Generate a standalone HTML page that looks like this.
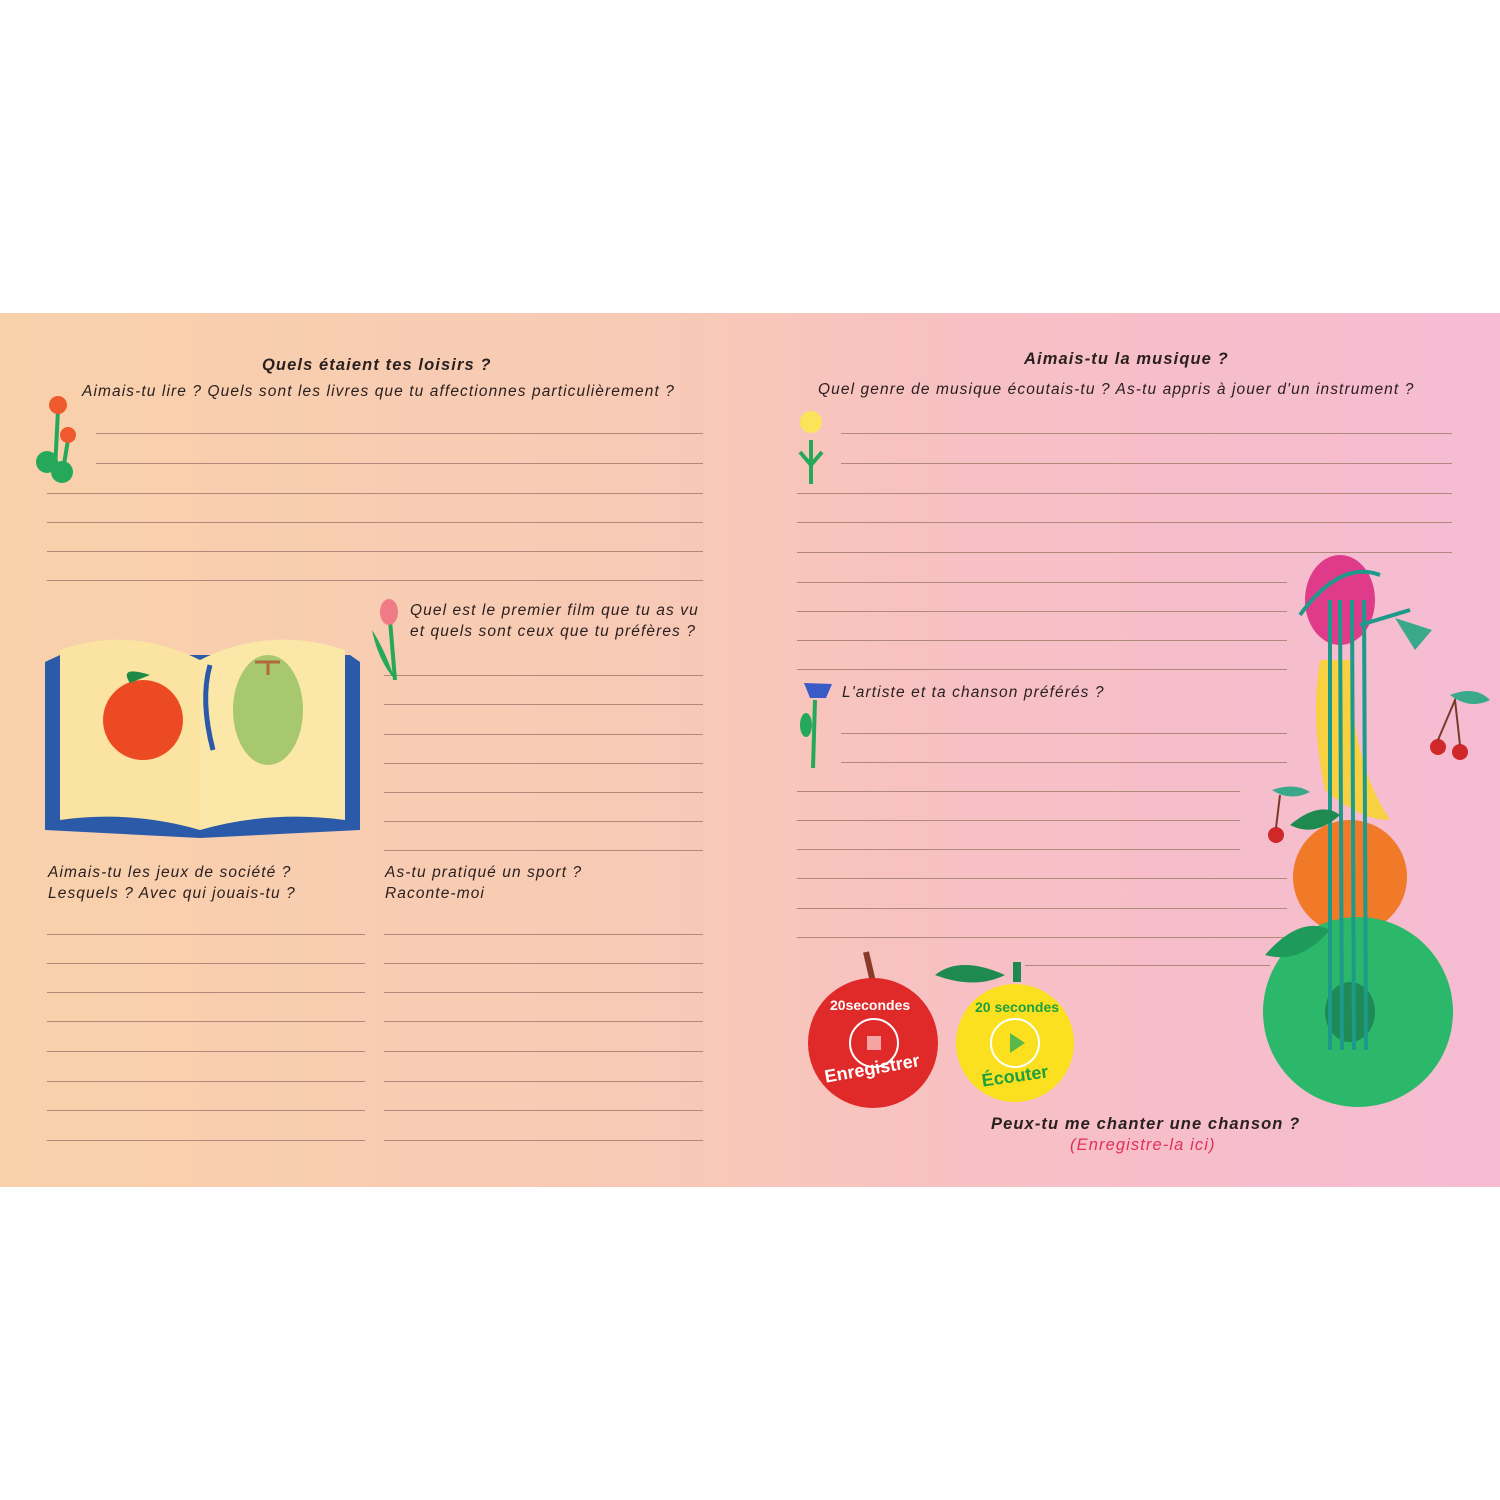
<!DOCTYPE html>
<html><head><meta charset="utf-8"><style>
html,body{margin:0;padding:0;background:#fff;width:1500px;height:1500px;overflow:hidden;position:relative;font-family:"Liberation Sans",sans-serif}
.band{position:absolute;left:0;top:313px;width:1500px;height:874px;background:linear-gradient(90deg,#f9d1ab 0%,#f8c9b6 45%,#f7c0c4 65%,#f6bbd3 100%)}
.l{position:absolute;height:1px;background:#b0897a}
.t{position:absolute;font-style:italic;font-size:15.5px;letter-spacing:1.1px;color:#2a2020;white-space:nowrap;line-height:21px}
.h{font-weight:bold;font-size:16.5px}
</style></head><body>
<div class="band"></div>
<div class="t h" style="left:262px;top:355px">Quels étaient tes loisirs ?</div>
<div class="t" style="left:82px;top:381px">Aimais-tu lire ? Quels sont les livres que tu affectionnes particulièrement ?</div>
<div class="t" style="left:410px;top:600px">Quel est le premier film que tu as vu<br>et quels sont ceux que tu préfères ?</div>
<div class="t" style="left:48px;top:862px">Aimais-tu les jeux de société ?<br>Lesquels ? Avec qui jouais-tu ?</div>
<div class="t" style="left:385px;top:862px">As-tu pratiqué un sport ?<br>Raconte-moi</div>
<div class="t h" style="left:1024px;top:349px">Aimais-tu la musique ?</div>
<div class="t" style="left:818px;top:379px">Quel genre de musique écoutais-tu ? As-tu appris à jouer d'un instrument ?</div>
<div class="t" style="left:842px;top:682px">L'artiste et ta chanson préférés ?</div>
<div class="t h" style="left:991px;top:1114px">Peux-tu me chanter une chanson ?</div>
<div class="t h" style="left:1070px;top:1135px;color:#e0305a;font-weight:normal">(Enregistre-la ici)</div>

<div class="l" style="left:96px;width:607px;top:433px"></div>
<div class="l" style="left:96px;width:607px;top:463px"></div>
<div class="l" style="left:47px;width:656px;top:493px"></div>
<div class="l" style="left:47px;width:656px;top:522px"></div>
<div class="l" style="left:47px;width:656px;top:551px"></div>
<div class="l" style="left:47px;width:656px;top:580px"></div>
<div class="l" style="left:384px;width:319px;top:675px"></div>
<div class="l" style="left:384px;width:319px;top:704px"></div>
<div class="l" style="left:384px;width:319px;top:734px"></div>
<div class="l" style="left:384px;width:319px;top:763px"></div>
<div class="l" style="left:384px;width:319px;top:792px"></div>
<div class="l" style="left:384px;width:319px;top:821px"></div>
<div class="l" style="left:384px;width:319px;top:850px"></div>
<div id="bl"></div>
<div class="l" style="left:47px;width:318px;top:934px"></div><div class="l" style="left:384px;width:319px;top:934px"></div>
<div class="l" style="left:47px;width:318px;top:963px"></div><div class="l" style="left:384px;width:319px;top:963px"></div>
<div class="l" style="left:47px;width:318px;top:992px"></div><div class="l" style="left:384px;width:319px;top:992px"></div>
<div class="l" style="left:47px;width:318px;top:1021px"></div><div class="l" style="left:384px;width:319px;top:1021px"></div>
<div class="l" style="left:47px;width:318px;top:1051px"></div><div class="l" style="left:384px;width:319px;top:1051px"></div>
<div class="l" style="left:47px;width:318px;top:1081px"></div><div class="l" style="left:384px;width:319px;top:1081px"></div>
<div class="l" style="left:47px;width:318px;top:1110px"></div><div class="l" style="left:384px;width:319px;top:1110px"></div>
<div class="l" style="left:47px;width:318px;top:1140px"></div><div class="l" style="left:384px;width:319px;top:1140px"></div>

<div class="l" style="left:841px;width:611px;top:433px"></div>
<div class="l" style="left:841px;width:611px;top:463px"></div>
<div class="l" style="left:797px;width:655px;top:493px"></div>
<div class="l" style="left:797px;width:655px;top:522px"></div>
<div class="l" style="left:797px;width:655px;top:552px"></div>
<div class="l" style="left:797px;width:490px;top:582px"></div>
<div class="l" style="left:797px;width:490px;top:611px"></div>
<div class="l" style="left:797px;width:490px;top:640px"></div>
<div class="l" style="left:797px;width:490px;top:669px"></div>
<div class="l" style="left:841px;width:446px;top:733px"></div>
<div class="l" style="left:841px;width:446px;top:762px"></div>
<div class="l" style="left:797px;width:443px;top:791px"></div>
<div class="l" style="left:797px;width:443px;top:820px"></div>
<div class="l" style="left:797px;width:443px;top:849px"></div>
<div class="l" style="left:797px;width:490px;top:878px"></div>
<div class="l" style="left:797px;width:490px;top:908px"></div>
<div class="l" style="left:797px;width:490px;top:937px"></div>
<div class="l" style="left:1025px;width:245px;top:965px"></div>

<svg style="position:absolute;left:0;top:0" width="1500" height="1500">
<!-- left flower -->
<path d="M58 410 L55 470 M68 440 L63 470" stroke="#25a85a" stroke-width="4" fill="none"/>
<circle cx="58" cy="405" r="9" fill="#ee5a2e"/><circle cx="68" cy="435" r="8" fill="#ee5a2e"/>
<circle cx="47" cy="462" r="11" fill="#25a85a"/><circle cx="62" cy="472" r="11" fill="#25a85a"/>
<!-- tulip -->
<path d="M390 620 L395 680" stroke="#25a85a" stroke-width="4"/><path d="M372 630 Q385 650 395 680 Q378 660 372 630" fill="#25a85a"/>
<ellipse cx="389" cy="612" rx="9" ry="13" fill="#ef7b86"/>
<!-- book -->
<path d="M45 662 L60 655 L350 655 L360 662 L360 830 L200 838 L45 830Z" fill="#2b5aa8"/>
<path d="M60 650 Q130 625 200 660 L200 830 Q130 810 60 820Z" fill="#fbe3a2"/>
<path d="M200 660 Q270 625 345 650 L345 820 Q270 810 200 830Z" fill="#fbe8a8"/>
<circle cx="143" cy="720" r="40" fill="#ec4a22"/><path d="M130 683 Q118 665 150 675Z" fill="#1f8a45"/>
<path d="M210 665 Q200 700 213 750" stroke="#2b5aa8" stroke-width="5" fill="none"/>
<ellipse cx="268" cy="710" rx="35" ry="55" fill="#a8c870"/><path d="M255 662 L280 662 M268 662 L268 675" stroke="#b06a3a" stroke-width="3"/>
<!-- right flowers -->
<path d="M811 440 L811 484 M811 465 L800 452 M811 465 L822 452" stroke="#25a85a" stroke-width="4" fill="none"/>
<circle cx="811" cy="422" r="11" fill="#fbe35a"/>
<path d="M815 700 L813 768" stroke="#25a85a" stroke-width="4"/><ellipse cx="806" cy="725" rx="6" ry="12" fill="#25a85a"/>
<path d="M804 683 L832 684 L826 698 L810 698Z" fill="#3a5ac8"/>
<!-- buttons -->
<path d="M866 952 L876 995" stroke="#8a3a2a" stroke-width="6"/>
<circle cx="873" cy="1043" r="65" fill="#e02a2a"/>
<circle cx="874" cy="1043" r="24" fill="none" stroke="#fff" stroke-width="2"/><rect x="867" y="1036" width="14" height="14" fill="#f5a3a3"/>
<text x="830" y="1010" fill="#fff" font-size="14" font-weight="bold" font-family="Liberation Sans">20secondes</text>
<text x="826" y="1075" fill="#fff" font-size="18" font-weight="bold" font-family="Liberation Sans" transform="rotate(-10 870 1080)">Enregistrer</text>
<path d="M935 975 Q960 955 1005 975 Q975 990 935 975Z" fill="#1e8a50"/><rect x="1013" y="962" width="8" height="20" fill="#1e8a50"/>
<circle cx="1015" cy="1043" r="59" fill="#fbe020"/>
<circle cx="1015" cy="1043" r="24" fill="none" stroke="#fff" stroke-width="2"/><path d="M1010 1033 L1025 1043 L1010 1053Z" fill="#5ab84a"/>
<text x="975" y="1012" fill="#1ea040" font-size="14" font-weight="bold" font-family="Liberation Sans">20 secondes</text>
<text x="982" y="1082" fill="#1ea040" font-size="18" font-weight="bold" font-family="Liberation Sans" transform="rotate(-8 1015 1080)">Écouter</text>
<!-- guitar/fruits -->
<ellipse cx="1340" cy="600" rx="35" ry="45" fill="#e03a8a"/>
<path d="M1320 660 Q1310 720 1325 790 Q1360 820 1390 820 Q1350 760 1350 660Z" fill="#f8d040"/>
<circle cx="1350" cy="877" r="57" fill="#f07a28"/>
<circle cx="1358" cy="1012" r="95" fill="#2cb86a"/>
<ellipse cx="1350" cy="1012" rx="25" ry="30" fill="#1e8a55"/>
<path d="M1330 600 L1330 1050 M1340 600 L1342 1050 M1352 600 L1354 1050 M1364 600 L1366 1050" stroke="#1e9a8a" stroke-width="4" fill="none"/>
<path d="M1300 615 Q1340 560 1380 575 M1360 625 L1410 610" stroke="#1e9a8a" stroke-width="4" fill="none"/>
<path d="M1395 618 L1432 630 L1415 650Z" fill="#3aa88a"/>
<path d="M1265 955 Q1300 915 1330 930 Q1300 965 1265 955Z" fill="#1e9a5a"/>
<path d="M1290 825 Q1320 800 1340 815 Q1315 838 1290 825Z" fill="#1e8a50"/>
<circle cx="1438" cy="747" r="8" fill="#d02828"/><circle cx="1460" cy="752" r="8" fill="#d02828"/>
<path d="M1438 740 L1455 700 L1460 745" stroke="#7a3a2a" stroke-width="2" fill="none"/>
<path d="M1450 695 Q1475 685 1490 700 Q1470 710 1450 695Z" fill="#3aa88a"/>
<circle cx="1276" cy="835" r="8" fill="#d02828"/><path d="M1276 828 L1280 795" stroke="#7a3a2a" stroke-width="2"/>
<path d="M1272 790 Q1295 782 1310 792 Q1290 802 1272 790Z" fill="#3aa88a"/>
</svg>
</body></html>
